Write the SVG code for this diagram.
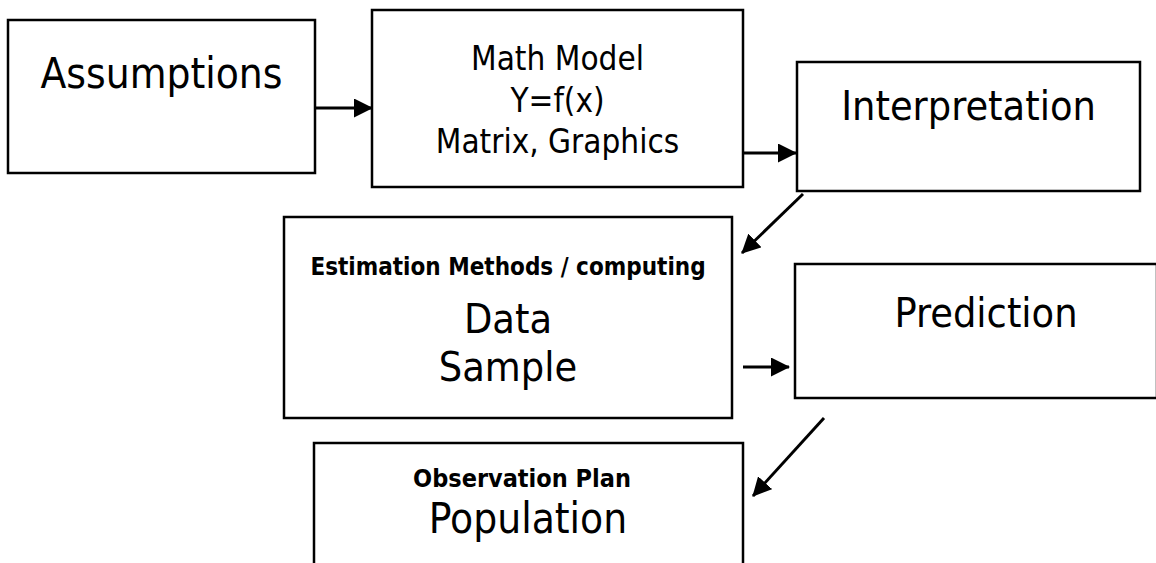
<svg xmlns="http://www.w3.org/2000/svg" width="1156" height="563" viewBox="0 0 1156 563">
<style>
.box{fill:#fff;stroke:#000;stroke-width:2.5}
.t{font-family:"DejaVu Sans Condensed","DejaVu Sans",sans-serif;fill:#000;text-anchor:middle}
.b{font-weight:bold}
.c{stroke:#000;stroke-width:3;fill:none;marker-end:url(#ah)}
</style>
<defs>
<marker id="ah" markerUnits="userSpaceOnUse" markerWidth="19" markerHeight="19" refX="18" refY="9.5" orient="auto">
<path d="M0,0 L19,9.5 L0,19 z" fill="#000"/>
</marker>
</defs>
<rect width="1156" height="563" fill="#fff"/>
<g id="assumptions">
<rect class="box" x="8" y="20" width="307" height="153"/>
<text class="t" x="161.5" y="88" font-size="42">Assumptions</text>
</g>
<g id="math-model">
<rect class="box" x="372" y="10" width="371" height="177"/>
<text class="t" x="557.5" y="70" font-size="33">Math Model</text>
<text class="t" x="557.5" y="112" font-size="33">Y=f(x)</text>
<text class="t" x="557.5" y="153" font-size="33">Matrix, Graphics</text>
</g>
<g id="interpretation">
<rect class="box" x="797" y="62" width="343" height="129"/>
<text class="t" x="968.5" y="120" font-size="41">Interpretation</text>
</g>
<g id="estimation">
<rect class="box" x="284" y="217" width="448" height="201"/>
<text class="t b" x="508" y="275" font-size="24">Estimation Methods / computing</text>
<text class="t" x="508" y="333" font-size="41">Data</text>
<text class="t" x="508" y="381" font-size="41">Sample</text>
</g>
<g id="prediction">
<rect class="box" x="795" y="264" width="362" height="134"/>
<text class="t" x="986" y="327" font-size="41">Prediction</text>
</g>
<g id="population">
<rect class="box" x="314" y="443" width="429" height="140"/>
<text class="t b" x="522" y="487" font-size="25">Observation Plan</text>
<text class="t" x="528" y="533" font-size="42">Population</text>
</g>
<g id="connectors">
<line class="c" x1="315" y1="108" x2="372" y2="108"/>
<line class="c" x1="743" y1="153" x2="796" y2="153"/>
<line class="c" x1="803" y1="194" x2="742" y2="253"/>
<line class="c" x1="743" y1="367" x2="789" y2="367"/>
<line class="c" x1="824" y1="418" x2="753" y2="496"/>
</g>
</svg>
